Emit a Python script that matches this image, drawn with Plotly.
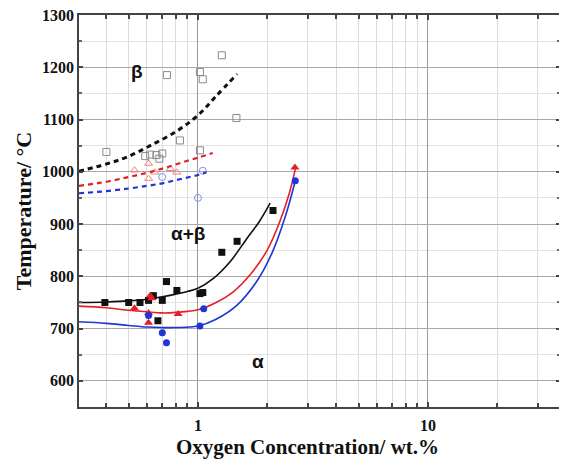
import math
import plotly.graph_objects as go

# ---- data ----
# open (beta transus) markers
beta_sq_x = [0.40, 0.733, 1.02, 1.05, 1.27, 1.47, 0.835, 0.59, 0.62, 0.66, 0.68, 0.70, 1.02]
beta_sq_T = [1038, 1185, 1191, 1177, 1223, 1103, 1060, 1030, 1033, 1032, 1025, 1035, 1041]
beta_red_x = [0.53, 0.61, 0.65, 0.61, 0.76, 0.81]
beta_red_T = [1003, 1016, 999, 987, 1006, 999]
beta_blue_x = [0.70, 1.05, 1.00]
beta_blue_T = [990, 1002, 950]

# dashed transus curves
bd_x = [0.304, 0.4, 0.49, 0.62, 0.81, 1.0, 1.2, 1.48]
bd_T = [1001, 1015, 1028, 1050, 1078, 1108, 1145, 1187]
rd_x = [0.304, 0.4, 0.5, 0.6, 0.7, 0.8, 0.9, 1.0, 1.16]
rd_T = [973, 981, 990, 998, 1006, 1014, 1021, 1027, 1036]
ud_x = [0.304, 0.4, 0.5, 0.6, 0.7, 0.8, 0.9, 1.0, 1.09]
ud_T = [959, 963, 968, 973, 978, 984, 989, 994, 999]

# solid (alpha) curves
bs_x = [0.304, 0.4, 0.5, 0.6, 0.7, 0.8, 0.9, 1.0, 1.16, 1.38, 1.63, 1.85, 2.06]
bs_T = [750, 751, 753, 756, 761, 766, 771, 777, 795, 828, 872, 905, 940]
rs_x = [0.304, 0.4, 0.5, 0.6, 0.7, 0.8, 1.0, 1.2, 1.42, 1.7, 2.0, 2.27, 2.5, 2.65]
rs_T = [743, 740, 735, 732, 730, 731, 736, 750, 770, 805, 850, 905, 960, 1005]
us_x = [0.304, 0.4, 0.5, 0.6, 0.7, 0.8, 1.0, 1.2, 1.48, 1.8, 2.1, 2.4, 2.65]
us_T = [713, 710, 706, 703, 702, 702, 705, 718, 745, 790, 845, 915, 983]

# filled markers
alpha_blk_x = [0.394, 0.50, 0.56, 0.61, 0.64, 0.70, 0.73, 0.81, 0.67, 1.02, 1.05, 1.27, 1.48, 2.12]
alpha_blk_T = [750, 750, 750, 754, 763, 754, 790, 773, 715, 767, 769, 846, 867, 926]
alpha_red_x = [0.53, 0.62, 0.61, 0.61, 0.82, 0.63, 2.64]
alpha_red_T = [739, 763, 730, 711, 728, 758, 1008]
alpha_blue_x = [0.61, 0.70, 0.73, 1.02, 1.06, 2.65]
alpha_blue_T = [725, 692, 673, 705, 738, 983]

# phase-field labels
phase_labels = ["β", "α+β", "α"]
phase_x = [0.543, 0.905, 1.82]
phase_T = [1191, 882, 638]

y_ticks = [600, 700, 800, 900, 1000, 1100, 1200, 1300]
x_ticks = [1, 10]
x_ticklabels = ["1", "10"]

BLACK = "#111111"
RED = "#e3202a"
BLUE = "#1f35d6"

fig = go.Figure()

def line(x, y, color, dash, width):
    fig.add_trace(go.Scatter(x=x, y=y, mode="lines", line=dict(color=color, width=width, dash=dash, shape="spline", smoothing=1.0), hoverinfo="skip"))

def pts(x, y, color, symbol, size, lw=0):
    m = dict(color=color, size=size, symbol=symbol, line=dict(color=color, width=lw))
    fig.add_trace(go.Scatter(x=x, y=y, mode="markers", marker=m))

# open markers
pts(beta_sq_x, beta_sq_T, "#8a8a8a", "square-open", 7, 1)
pts(beta_red_x, beta_red_T, "#ef8080", "triangle-up-open", 7, 1)
pts(beta_blue_x, beta_blue_T, "#8090e0", "circle-open", 7, 1)

# dashed
line(bd_x, bd_T, BLACK, "5px,4px", 3)
line(rd_x, rd_T, RED, "5px,4px", 2.2)
line(ud_x, ud_T, BLUE, "5px,4px", 2.2)

# solid
line(bs_x, bs_T, BLACK, "solid", 1.6)
line(rs_x, rs_T, RED, "solid", 1.6)
line(us_x, us_T, BLUE, "solid", 1.6)

pts(alpha_blk_x, alpha_blk_T, BLACK, "square", 7)
pts(alpha_red_x, alpha_red_T, RED, "triangle-up", 8)
pts(alpha_blue_x, alpha_blue_T, BLUE, "circle", 7)

lab_font = dict(family="Liberation Sans", size=19, color=BLACK, weight="bold")
for t, xv, yv in zip(phase_labels, phase_x, phase_T):
    fig.add_annotation(x=math.log10(xv), y=yv, text=t, showarrow=False, font=lab_font)

serif = dict(family="Liberation Serif", size=16, color=BLACK, weight="bold")
title_font = dict(family="Liberation Serif", size=21, color=BLACK, weight="bold")

# x axis title as a paper-anchored annotation
fig.add_annotation(xref="paper", yref="paper", x=0.476, y=-0.102, xanchor="center", yanchor="middle",
                   text="Oxygen Concentration/ wt.%", showarrow=False, font=title_font)

fig.update_layout(
    width=559, height=451,
    margin=dict(l=71, r=7, t=7, b=52),
    paper_bgcolor="white", plot_bgcolor="white",
    showlegend=False,
    font=serif,
)
fig.update_xaxes(
    type="log", range=[-0.517, 1.574], automargin=False,
    tickvals=x_ticks, ticktext=x_ticklabels,
    ticks="inside", ticklen=5, tickcolor="#444", tickwidth=1.5,
    ticklabelstandoff=3,
    showgrid=True, gridcolor="#9a9a9a", gridwidth=1,
    minor=dict(tickvals=[0.4, 0.5, 0.6, 0.7, 0.8, 0.9, 2, 3, 4, 5, 6, 7, 8, 9, 20, 30],
               ticks="inside", ticklen=4, tickcolor="#444", showgrid=True, gridcolor="#dcdcdc", gridwidth=1),
    showline=True, linecolor="#444", linewidth=1.5, mirror="allticks",
    zeroline=False,
    tickfont=serif,
)
fig.update_yaxes(
    range=[550, 1300], automargin=False,
    tickvals=y_ticks, ticklabeloverflow="allow",
    ticks="inside", ticklen=4, tickcolor="#444", tickwidth=1.5,
    showgrid=True, gridcolor="#a8a8a8", gridwidth=1,
    minor=dict(dtick=50, ticks="inside", ticklen=3, tickcolor="#666", showgrid=True, gridcolor="#e2e2e2", gridwidth=1),
    showline=True, linecolor="#444", linewidth=1.5, mirror="allticks",
    zeroline=False,
    title=dict(text="Temperature/ °C", font=dict(family="Liberation Serif", size=22, color=BLACK, weight="bold"), standoff=4),
    tickfont=serif,
)

fig.write_html("out.html")
